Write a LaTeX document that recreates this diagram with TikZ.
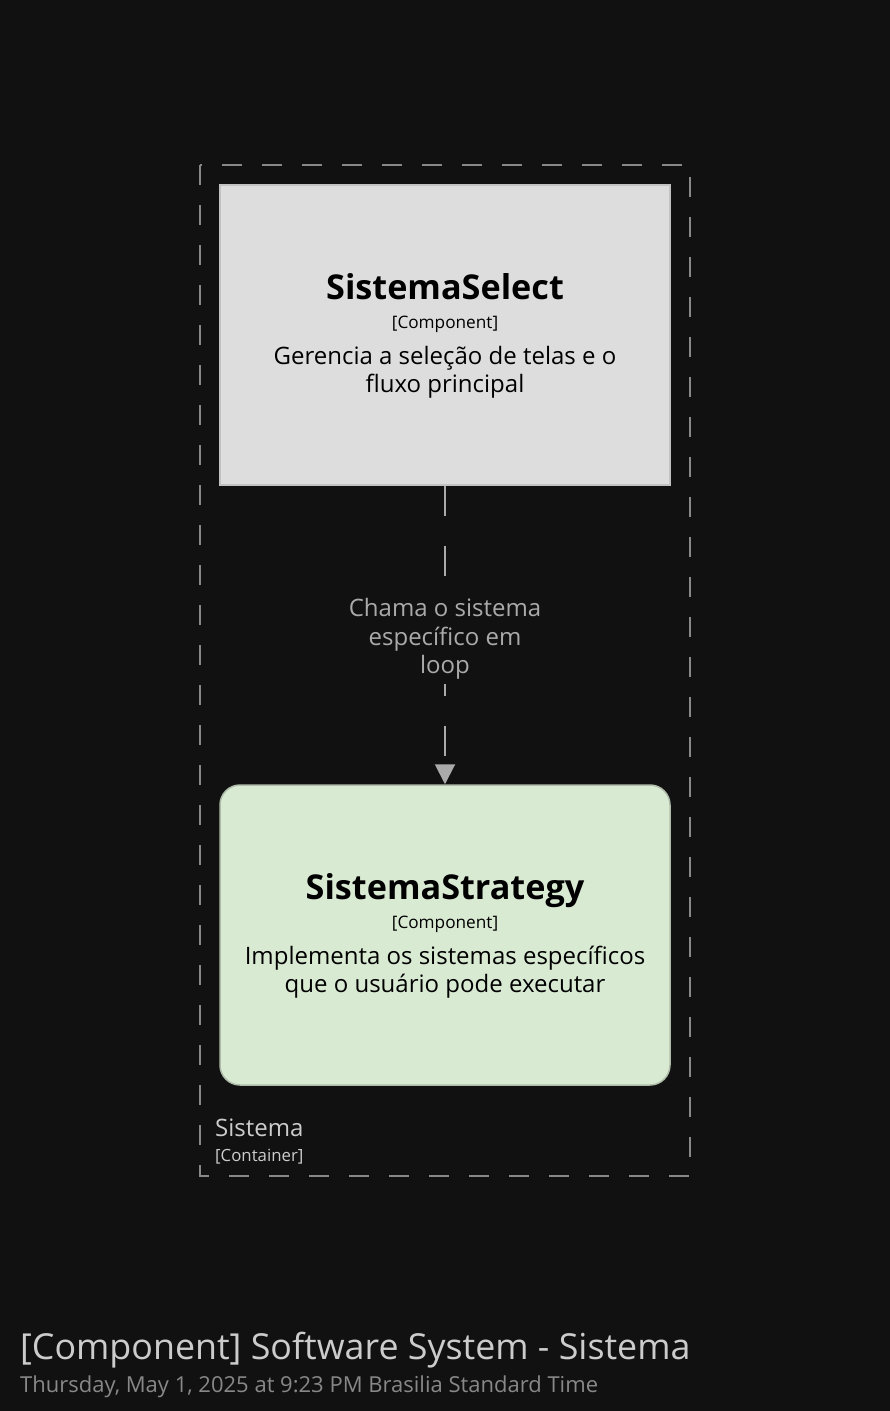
\documentclass[tikz,border=0pt]{standalone}
\usepackage{fontspec}
\setmainfont{Open Sans}
\usetikzlibrary{arrows.meta}
\definecolor{bg}{HTML}{111111}
\definecolor{selfill}{HTML}{DDDDDD}
\definecolor{selline}{HTML}{C2C2C2}
\definecolor{strfill}{HTML}{D9EAD3}
\definecolor{strline}{HTML}{AEBCA9}
\definecolor{bound}{HTML}{888888}
\definecolor{relc}{HTML}{AAAAAA}
\definecolor{lightt}{HTML}{CCCCCC}
\definecolor{datet}{HTML}{888888}
\tikzset{
  comp/.style={draw, line width=1.5pt, minimum width=450pt, minimum height=300pt, inner sep=0pt},
  ctitle/.style={font=\fontsize{34.2}{40}\selectfont\bfseries, text=black, inner sep=0pt, anchor=base},
  ctype/.style={font=\fontsize{17.2}{20}\selectfont, text=black, inner sep=0pt, anchor=base},
  cdesc/.style={font=\fontsize{24}{28}\selectfont, text=black, inner sep=0pt, align=center, anchor=north},
  rel/.style={draw=relc, line width=2pt, dash pattern=on 30pt off 30pt, -{Triangle[length=20pt,width=20pt]}},
  rellabel/.style={font=\fontsize{24}{28.5}\selectfont, text=relc, fill=bg, align=center, inner sep=4pt},
}
\begin{document}
\begin{tikzpicture}[x=1pt,y=-1pt]
\fill[bg] (0,0) rectangle (890,1411);
\useasboundingbox (0,0) rectangle (890,1411);
% container boundary
\draw[bound, line width=2pt, dash pattern=on 20pt off 20pt] (200,165) rectangle (690,1176);
\node[font=\fontsize{24}{28}\selectfont, text=lightt, anchor=base west, inner sep=0pt] (cname) at (215,1136) {Sistema};
\node[font=\fontsize{16.8}{20}\selectfont, text=lightt, anchor=base west, inner sep=0pt] (ctypeb) at (215,1161) {[Container]};
% components
\node[comp, fill=selfill, draw=selline] (sel) at (445,335) {};
\node[ctitle] (selt) at (445,299) {SistemaSelect};
\node[ctype] (selty) at (445,328) {[Component]};
\node[cdesc] (seld) at (445,346) {Gerencia a seleção de telas e o\\fluxo principal};
\node[comp, fill=strfill, draw=strline, rounded corners=20pt] (str) at (445,935) {};
\node[ctitle] (strt) at (445,899) {SistemaStrategy};
\node[ctype] (strty) at (445,928) {[Component]};
\node[cdesc] (strd) at (445,946) {Implementa os sistemas específicos\\que o usuário pode executar};
% relationship
\draw[rel] (sel.south) -- (str.north);
\node[rellabel] (lab) at (445,639) {Chama o sistema\\específico em\\loop};
% title
\node[font=\fontsize{35.8}{40}\selectfont, text=lightt, anchor=base west, inner sep=0pt] (title) at (20,1359) {[Component] Software System - Sistema};
\node[font=\fontsize{22}{26}\selectfont, text=datet, anchor=base west, inner sep=0pt] (date) at (20,1392) {Thursday, May 1, 2025 at 9:23 PM Brasilia Standard Time};
\end{tikzpicture}
\end{document}
